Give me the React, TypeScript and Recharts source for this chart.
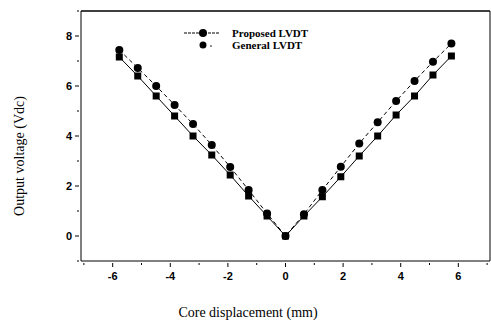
import { LineChart, Line, XAxis, YAxis, Legend, ReferenceLine } from 'recharts';

const displacement = [
  -5.77, -5.13, -4.49, -3.85, -3.21, -2.56, -1.92, -1.28, -0.64, 0,
  0.64, 1.28, 1.92, 2.56, 3.2, 3.84, 4.48, 5.12, 5.76,
];
const proposed = [
  7.44, 6.72, 6.0, 5.24, 4.48, 3.64, 2.76, 1.84, 0.9, 0,
  0.87, 1.84, 2.77, 3.7, 4.55, 5.4, 6.2, 6.97, 7.7,
];
const general = [
  7.16, 6.4, 5.6, 4.8, 4.0, 3.24, 2.44, 1.6, 0.8, 0,
  0.8, 1.57, 2.37, 3.2, 4.0, 4.84, 5.6, 6.44, 7.2,
];
const xTicks = [-7, -6, -5, -4, -3, -2, -1, 0, 1, 2, 3, 4, 5, 6, 7];
const yTicks = [-1, 0, 1, 2, 3, 4, 5, 6, 7, 8, 9];

const data = displacement.map((x, i) => ({ x, proposed: proposed[i], general: general[i] }));

const tickFont = "'Liberation Sans', Arial, sans-serif";
const serif = "'Liberation Serif', 'Times New Roman', serif";

const XTick = (props: any) => {
  const { x, y, payload } = props;
  const v = payload.value;
  const major = v % 2 === 0;
  return (
    <g>
      <line x1={x} x2={x} y1={y - 6} y2={y - 6 + (major ? 4 : 2)} stroke="#000" />
      {major && (
        <text x={x} y={y + 11} textAnchor="middle" fontSize={11} fontWeight="bold" fontFamily={tickFont} fill="#000">
          {v}
        </text>
      )}
    </g>
  );
};

const YTick = (props: any) => {
  const { x, y, payload } = props;
  const v = payload.value;
  const major = v % 2 === 0 && v >= 0 && v <= 8;
  return (
    <g>
      <line x1={x + 6} x2={x + 6 - (major ? 4 : 2)} y1={y} y2={y} stroke="#000" />
      {major && (
        <text x={x - 1} y={y + 4} textAnchor="end" fontSize={11} fontWeight="bold" fontFamily={tickFont} fill="#000">
          {v}
        </text>
      )}
    </g>
  );
};

const CircleDot = (props: any) => {
  const { cx, cy } = props;
  return <circle key={`c${cx}`} cx={cx} cy={cy} r={4} fill="#000" />;
};

const SquareDot = (props: any) => {
  const { cx, cy } = props;
  return <rect key={`s${cx}`} x={cx - 3.5} y={cy - 3.5} width={7} height={7} fill="#000" />;
};

const LegendBox = () => (
  <div style={{ fontFamily: serif, fontSize: 11, fontWeight: 'bold', lineHeight: '12px' }}>
    <div style={{ display: 'flex', alignItems: 'center' }}>
      <svg width={46} height={12}>
        <line x1={2} x2={38} y1={6} y2={6} stroke="#000" strokeDasharray="3 1" />
        <circle cx={21} cy={6} r={4} fill="#000" />
      </svg>
      <span style={{ marginLeft: 4 }}>Proposed LVDT</span>
    </div>
    <div style={{ display: 'flex', alignItems: 'center' }}>
      <svg width={46} height={12}>
        <circle cx={21} cy={6} r={3.5} fill="#000" />
        <circle cx={29} cy={7} r={0.8} fill="#000" />
      </svg>
      <span style={{ marginLeft: 4 }}>General LVDT</span>
    </div>
  </div>
);

export default function App() {
  return (
    <div style={{ position: 'absolute', left: 0, top: 0, width: 491, height: 322, background: '#fff' }}>
      <LineChart width={491} height={322} data={data} margin={{ top: 11, right: 1, left: 0, bottom: 0 }}>
        <XAxis
          dataKey="x"
          type="number"
          domain={[-7.1, 7.1]}
          ticks={xTicks}
          interval={0}
          height={61}
          stroke="#000"
          tickLine={false}
          tick={<XTick />}
        />
        <YAxis
          type="number"
          domain={[-1, 9]}
          ticks={yTicks}
          interval={0}
          width={81}
          stroke="#000"
          tickLine={false}
          tick={<YTick />}
        />
        <ReferenceLine y={9} stroke="#000" strokeWidth={1.5} />
        <ReferenceLine x={7.1} stroke="#000" />
        <Legend
          layout="vertical"
          align="center"
          verticalAlign="middle"
          content={<LegendBox />}
          wrapperStyle={{ left: 182, top: 27, width: 160 }}
        />
        <Line
          dataKey="proposed"
          name="Proposed LVDT"
          stroke="#000"
          strokeWidth={1}
          strokeDasharray="4 3"
          dot={<CircleDot />}
          isAnimationActive={false}
        />
        <Line
          dataKey="general"
          name="General LVDT"
          stroke="#000"
          strokeWidth={1}
          dot={<SquareDot />}
          isAnimationActive={false}
        />
      </LineChart>
      <div
        style={{
          position: 'absolute',
          left: 20,
          top: 156,
          transform: 'translate(-50%, -50%) rotate(-90deg)',
          whiteSpace: 'nowrap',
          fontFamily: serif,
          fontSize: 14,
        }}
      >
        Output voltage (Vdc)
      </div>
      <div
        style={{
          position: 'absolute',
          left: 248,
          top: 313,
          transform: 'translate(-50%, -50%)',
          whiteSpace: 'nowrap',
          fontFamily: serif,
          fontSize: 14,
        }}
      >
        Core displacement (mm)
      </div>
    </div>
  );
}
